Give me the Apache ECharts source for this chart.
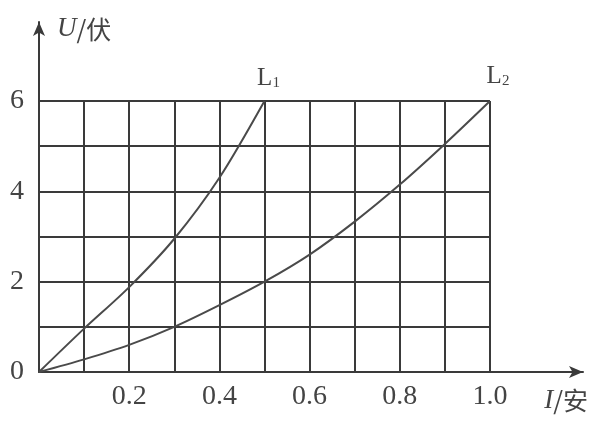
<!DOCTYPE html>
<html>
<head>
<meta charset="utf-8">
<script src="https://cdn.jsdelivr.net/npm/echarts@6/dist/echarts.min.js"></script>
<style>html,body{margin:0;padding:0;background:#fff}#c{width:606px;height:426px}</style>
</head>
<body>
<div id="c"></div>
<script>
// Data (I in A, U in V)
const l1Current = [0, 0.1, 0.2, 0.3, 0.4, 0.5];
const l1Voltage = [0, 0.96, 1.88, 2.95, 4.3, 6];
const l2Current = [0, 0.1, 0.2, 0.3, 0.4, 0.5, 0.6, 0.7, 0.8, 0.9, 1.0];
const l2Voltage = [0, 0.28, 0.6, 1.0, 1.48, 2.0, 2.6, 3.33, 4.15, 5.05, 6];
const seriesNames = ['L1', 'L2'];
const xTickLabels = ['0.2', '0.4', '0.6', '0.8', '1.0'];
const yTickLabels = ['0', '2', '4', '6'];

const ink = '#3a3a3a';
const txt = '#444';
const serif = '"Liberation Serif","DejaVu Serif",serif';
const cjk = '"Noto Sans CJK SC",sans-serif';

function pts(xs, ys) { return xs.map((x, i) => [x, ys[i]]); }
function endLabel(text, offset) {
  return {
    show: true, distance: 0, align: 'center', verticalAlign: 'bottom', offset: offset,
    formatter: text, fontFamily: serif, fontSize: 25, color: txt,
    rich: {
      m: { fontFamily: serif, fontSize: 25, color: txt },
      s: { fontFamily: serif, fontSize: 15, color: txt, verticalAlign: 'bottom', padding: [9, 0, 0, 0] }
    }
  };
}

const chart = echarts.init(document.getElementById('c'), null, { renderer: 'canvas' });
chart.setOption({
  animation: false,
  backgroundColor: '#fff',
  grid: [
    { left: 39, right: 116, top: 101, bottom: 54 },
    { left: 39, right: 23, top: 22, bottom: 54 }
  ],
  xAxis: [
    {
      type: 'value', gridIndex: 0, min: 0, max: 1, interval: 0.1,
      axisLine: { show: false }, axisTick: { show: false },
      splitLine: { show: true, showMinLine: true, showMaxLine: true, lineStyle: { color: ink, width: 2 } },
      axisLabel: {
        margin: 11, color: txt, fontFamily: serif, fontSize: 28,
        formatter: v => { const s = v.toFixed(1); return xTickLabels.indexOf(s) >= 0 ? s : ''; }
      }
    },
    {
      type: 'value', gridIndex: 1, min: 0, max: 1,
      axisLine: { show: true, symbol: ['none', 'arrow'], symbolSize: [9, 14], lineStyle: { color: ink, width: 2 } },
      axisTick: { show: false }, axisLabel: { show: false }, splitLine: { show: false },
      name: '{i|I}{t|/安}', nameLocation: 'end', nameGap: 5,
      nameTextStyle: {
        align: 'right', verticalAlign: 'top', padding: [15, 0, 0, 0],
        rich: {
          i: { fontFamily: serif, fontStyle: 'italic', fontSize: 27, color: txt },
          t: { fontFamily: cjk, fontSize: 25, color: txt }
        }
      }
    }
  ],
  yAxis: [
    {
      type: 'value', gridIndex: 0, min: 0, max: 6, interval: 1,
      axisLine: { show: false }, axisTick: { show: false },
      splitLine: { show: true, showMinLine: true, showMaxLine: true, lineStyle: { color: ink, width: 2 } },
      axisLabel: {
        margin: 15, color: txt, fontFamily: serif, fontSize: 28,
        formatter: v => { const s = String(Math.round(v)); return yTickLabels.indexOf(s) >= 0 ? s : ''; }
      }
    },
    {
      type: 'value', gridIndex: 1, min: 0, max: 1,
      axisLine: { show: true, symbol: ['none', 'arrow'], symbolSize: [9, 14], lineStyle: { color: ink, width: 2 } },
      axisTick: { show: false }, axisLabel: { show: false }, splitLine: { show: false },
      name: '{i|U}{t|/伏}', nameLocation: 'end', nameGap: -7,
      nameTextStyle: {
        align: 'left', verticalAlign: 'middle', padding: [0, 0, 0, 18],
        rich: {
          i: { fontFamily: serif, fontStyle: 'italic', fontSize: 27, color: txt },
          t: { fontFamily: cjk, fontSize: 25, color: txt }
        }
      }
    }
  ],
  series: [
    {
      name: seriesNames[0], type: 'line', xAxisIndex: 0, yAxisIndex: 0, smooth: 0.3,
      showSymbol: false, symbol: 'none', lineStyle: { color: '#4a4a4a', width: 2 },
      endLabel: endLabel('{m|L}{s|1}', [4, -10]),
      data: pts(l1Current, l1Voltage)
    },
    {
      name: seriesNames[1], type: 'line', xAxisIndex: 0, yAxisIndex: 0, smooth: 0.3,
      showSymbol: false, symbol: 'none', lineStyle: { color: '#4a4a4a', width: 2 },
      endLabel: endLabel('{m|L}{s|2}', [8, -12]),
      data: pts(l2Current, l2Voltage)
    }
  ]
});
</script>
</body>
</html>
